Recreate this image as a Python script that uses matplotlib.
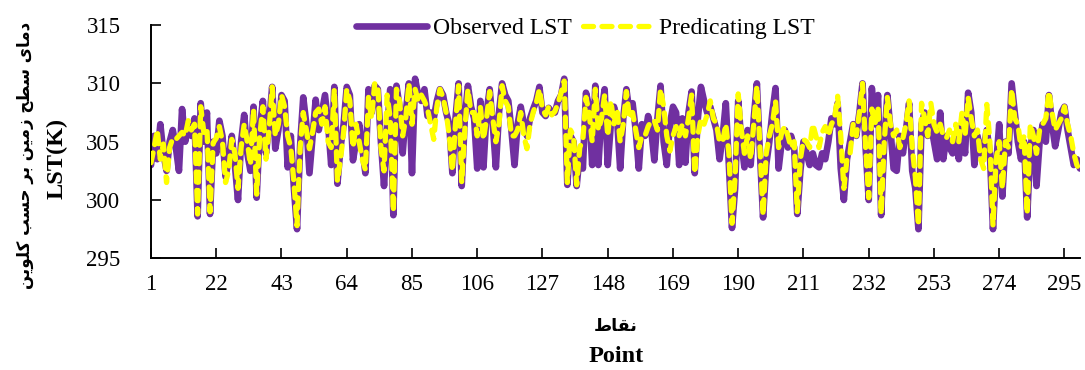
import numpy as np
import matplotlib
matplotlib.use("Agg")
import matplotlib.pyplot as plt

# observed land surface temperature (K), points 1..300
observed = [
    303.0, 305.5, 303.5, 306.5, 304.0, 302.5, 305.0, 306.0, 304.5, 302.5,
    307.8, 305.0, 306.5, 305.5, 307.0, 298.6, 308.3, 305.0, 307.5, 298.8,
    305.0, 304.0, 306.8, 305.5, 302.0, 303.5, 305.5, 303.0, 300.0, 305.0,
    307.3, 304.0, 302.5, 308.0, 300.2, 306.0, 308.5,
    304.0, 306.5, 309.7, 304.4, 306.0, 309.0, 308.5, 302.8, 305.5, 301.0,
    297.5, 304.7, 308.8, 306.5, 302.3, 305.5, 308.6, 306.0, 307.5, 309.0,
    306.5, 303.0, 309.7, 301.4, 304.5, 306.5, 309.7, 309.0, 303.4, 305.0,
    306.5, 304.5, 302.3, 309.5, 307.5, 309.8,
    309.5, 305.0, 301.2, 306.0, 309.5, 298.7, 309.8, 308.0, 304.0, 307.5,
    310.0, 302.3, 310.4, 309.0, 308.5, 309.5, 307.2, 307.5, 307.0, 308.5,
    309.5, 309.0, 307.5, 306.5, 302.3, 307.0, 310.0, 301.2, 307.0, 309.8,
    308.0, 307.0, 302.7, 308.5, 302.8, 307.5, 309.5,
    306.5, 302.8, 307.5, 310.0, 309.0, 308.5, 306.0, 303.0, 306.5, 308.0,
    306.5, 305.5, 307.0, 307.8, 308.5, 309.7, 307.5, 307.2, 307.9, 307.5,
    307.5, 308.5, 309.0, 310.4, 301.3, 305.5, 305.0, 301.2, 304.0, 302.7,
    309.2, 308.0, 303.0, 309.8, 303.0, 307.5, 309.5,
    303.0, 306.5, 308.0, 307.0, 302.7, 307.0, 309.5, 307.5, 308.3, 306.0,
    302.7, 306.5, 305.5, 307.2, 306.0, 303.4, 307.0, 309.8, 305.0, 303.0,
    306.5, 308.0, 307.5, 303.0, 307.0, 303.2, 307.5, 309.3, 302.3, 307.0,
    309.7, 308.5, 307.5, 308.0, 307.0, 306.0, 303.5,
    305.5, 308.3, 303.0, 297.6, 301.0, 308.5, 305.0, 302.8, 306.0, 303.0,
    307.0, 310.0, 304.0, 298.5, 303.0, 305.0, 307.5, 309.6, 302.7, 305.0,
    306.0, 304.5, 305.5, 304.5, 298.8, 302.5, 305.0, 304.0, 303.0, 304.0,
    303.0, 302.8, 304.0, 303.5, 305.0, 307.0, 306.5, 308.3,
    302.7, 300.0, 303.5, 305.0, 306.5, 305.5, 307.5, 310.0, 304.5, 300.0,
    309.6, 306.5, 309.0, 298.7, 305.0, 309.0, 306.0, 302.7, 302.5, 305.5,
    304.0, 306.0, 308.3, 302.5, 301.0, 297.5, 306.5, 307.5, 305.5, 306.5,
    305.0, 303.5, 307.5, 303.5, 305.5, 304.5, 304.0,
    305.5, 303.5, 306.5, 304.0, 309.2, 307.5, 303.0, 305.5, 304.0, 304.5,
    306.0, 304.0, 297.5, 303.0, 306.5, 300.3, 305.0, 304.0, 310.0, 307.5,
    305.0, 303.5, 305.0, 298.5, 304.5, 306.0, 301.2, 305.0, 306.5, 305.0,
    309.0, 306.5, 304.6, 306.0, 307.5, 308.0, 306.0, 304.5, 303.0, 303.5,
    302.7,
]

# predicted land surface temperature (K)
predicted = [
    303.2, 304.5, 306.0, 303.5, 304.8, 301.5, 304.5, 305.3, 305.2, 305.5,
    305.8, 305.5, 306.8, 306.0, 306.5, 298.8, 308.0, 305.8, 306.2, 299.0,
    304.9, 305.3, 306.3, 305.0, 301.5, 302.5, 305.2, 304.0, 301.0, 304.5,
    306.5, 305.0, 303.0, 307.8, 300.5, 305.5, 308.0,
    303.5, 306.0, 309.7, 305.5, 306.5, 309.0, 308.0, 305.5, 304.5, 301.5,
    297.8, 304.5, 307.5, 306.0, 304.4, 305.8, 307.5, 307.8, 306.5, 308.0,
    305.0, 304.5, 309.5, 301.6, 303.5, 305.8, 309.5, 308.5, 304.5, 306.5,
    305.0, 303.5, 302.6, 308.8, 307.0, 310.0,
    309.8, 304.5, 302.5, 309.0, 307.0, 299.0, 309.5, 308.5, 305.5, 307.0,
    310.0, 306.5, 309.5, 308.5, 309.0, 308.5, 307.8, 306.5, 305.2, 308.0,
    309.5, 308.8, 307.5, 305.5, 302.5, 306.5, 309.8, 301.5, 306.0, 309.5,
    307.5, 307.5, 305.5, 308.0, 305.2, 307.0, 309.3,
    307.0, 305.0, 306.5, 309.8, 308.5, 308.0, 305.5, 305.5, 306.0, 307.5,
    305.5, 304.4, 306.5, 307.5, 308.3, 309.5, 307.8, 307.3, 308.0, 307.3,
    307.6, 308.3, 309.2, 310.2, 301.5, 306.0, 305.5, 301.3, 304.5, 305.2,
    308.8, 307.5, 305.0, 309.5, 306.0, 307.0, 309.0,
    305.5, 308.5, 306.5, 307.8, 305.0, 306.5, 309.3, 307.0, 307.5, 306.0,
    304.5, 305.5, 305.5, 306.3, 306.8, 306.8, 306.0, 309.5, 308.0, 305.5,
    304.2, 305.5, 306.3, 305.5, 306.5, 305.5, 307.0, 309.0, 302.3, 305.5,
    307.0, 306.5, 307.3, 308.5, 307.0, 306.5, 305.0,
    305.0, 306.5, 304.0, 298.0, 302.0, 309.1, 306.0, 304.0, 305.5, 303.5,
    306.5, 309.8, 304.5, 298.7, 304.0, 305.5, 306.5, 308.5, 304.5, 305.8,
    306.3, 305.5, 304.5, 305.0, 299.0, 303.5, 305.2, 305.0, 304.5, 306.5,
    305.5, 304.5, 305.8, 306.3, 305.5, 306.5, 307.0, 308.9,
    305.5, 301.0, 303.5, 304.0, 306.5, 305.5, 307.5, 310.0, 304.5, 300.2,
    307.8, 306.5, 308.0, 298.8, 305.0, 308.8, 306.5, 305.5, 306.0, 304.5,
    305.3, 306.5, 308.5, 304.5, 302.0, 297.8, 308.3, 307.0, 305.5, 308.3,
    306.5, 305.8, 306.5, 305.5, 305.3, 306.0, 305.0,
    306.5, 305.0, 307.5, 305.5, 308.8, 307.0, 305.5, 306.0, 303.5, 302.7,
    308.2, 305.0, 297.8, 303.5, 305.0, 301.0, 305.0, 304.5, 309.5, 307.0,
    306.5, 304.5, 305.5, 298.8, 306.5, 305.5, 304.0, 306.0, 306.5, 307.0,
    309.3, 307.5, 306.0, 306.5, 307.0, 308.0, 306.5, 305.5, 304.0, 303.0,
    302.5,
]

points = np.arange(1, len(observed) + 1)
x_ticks = list(range(1, 301, 21))
y_ticks = [295, 300, 305, 310, 315]

# Persian labels, pre-shaped (presentation forms, visual order)
fa_ylabel = ("\uFEE6\uFEF3\uFEEE\uFEE0\uFEDB" + " " + "\uFE90\uFEB4\uFEA3" + " "
             + "\uFEAE\uFE91" + " " + "\uFEE6\uFEF4\uFEE3\uFEAF" + " "
             + "\uFEA2\uFEC4\uFEB3" + " " + "\uFEEF\uFE8E\uFEE3\uFEA9")
fa_xlabel = "\uFEC1\uFE8E\uFED8\uFEE7"

plt.rcParams['font.family'] = ['Liberation Serif', 'DejaVu Sans']

fig = plt.figure(figsize=(10.85, 3.7), dpi=100)
ax = fig.add_axes([151 / 1085, 1 - 258.3 / 370, 929 / 1085, 233.2 / 370])

ax.plot(points, observed, color="#7030A0", lw=4.8, solid_capstyle="round",
        solid_joinstyle="round", label="Observed LST", zorder=2)
ax.plot(points, predicted, color="#FFFF00", lw=3.8, dashes=(1.9, 1.6),
        dash_capstyle="round", dash_joinstyle="round",
        label="Predicating LST", zorder=3)

ax.set_xlim(1, 300)
ax.set_ylim(295, 315)
ax.set_xticks(x_ticks)
ax.set_yticks(y_ticks)
ax.tick_params(direction="in", length=7, width=1.2, labelsize=16.5)
ax.tick_params(axis="x", pad=11)
ax.tick_params(axis="y", pad=22)
for s in ["top", "right"]:
    ax.spines[s].set_visible(False)
for s in ["left", "bottom"]:
    ax.spines[s].set_linewidth(1.4)

ax.legend(loc="center", bbox_to_anchor=(0.468, 0.985), ncol=2, frameon=False,
          fontsize=17, handlelength=3.0, handletextpad=0.25, columnspacing=0.45)

fig.text(25 / 1085, 1 - 155 / 370, fa_ylabel, rotation=90, ha="center",
         va="center", fontsize=12, fontweight="bold", family="DejaVu Sans")
fig.text(57 / 1085, 1 - 158 / 370, "LST(K)", rotation=90, ha="center",
         va="center", fontsize=17.5, fontweight="bold")
fig.text(616 / 1085, 1 - 326 / 370, fa_xlabel, ha="center", va="center",
         fontsize=12.5, fontweight="bold", family="DejaVu Sans")
fig.text(616 / 1085, 1 - 357 / 370, "Point", ha="center", va="center",
         fontsize=17.5, fontweight="bold")

fig.savefig("out.png", dpi=100)
